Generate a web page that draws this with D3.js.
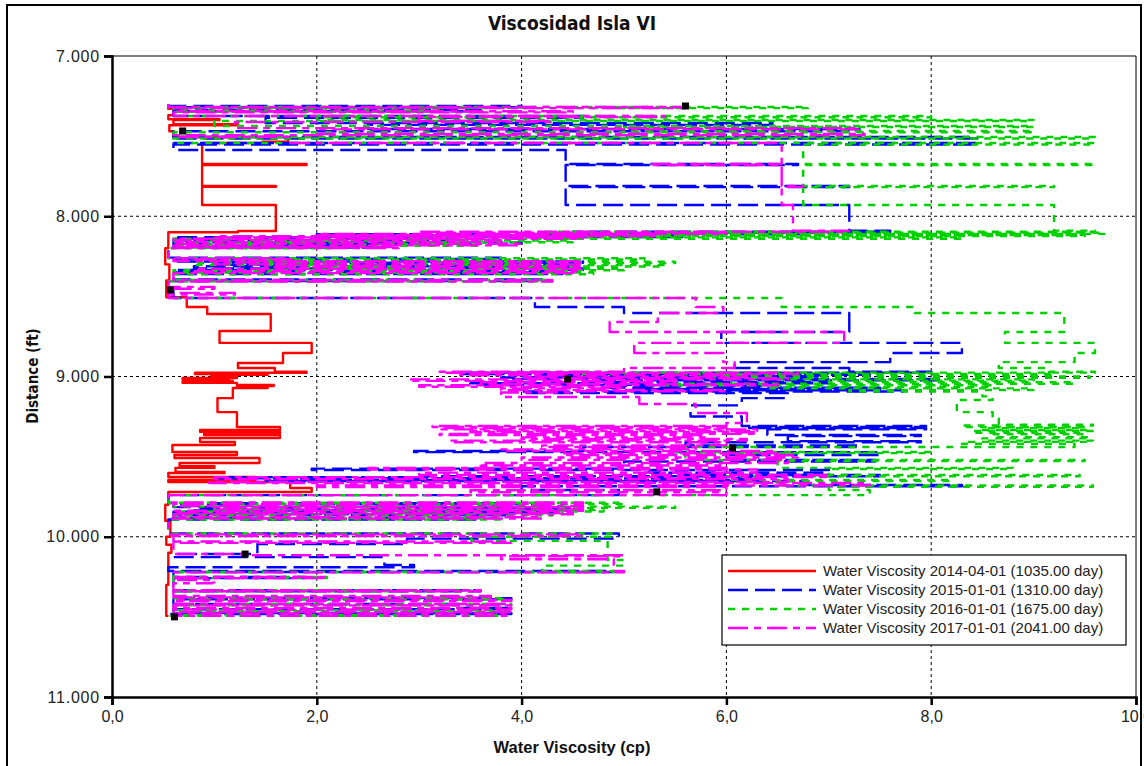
<!DOCTYPE html>
<html>
<head>
<meta charset="utf-8">
<script src="https://cdn.jsdelivr.net/npm/d3@7"></script>
<style>
  body { margin: 0; background: #fff; }
  svg { display: block; }
</style>
</head>
<body>
<svg id="chart" width="1144" height="766"></svg>
<script>
// Layered water-viscosity profiles: each entry is [depth top (ft), viscosity (cp)]
const visc2014 = [
  [7.300,0.55],[7.330,0.60],[7.370,0.55],[7.395,1.05],[7.400,0.60],[7.425,1.23],[7.432,0.56],[7.470,0.60],
  [7.505,1.72],[7.535,1.47],[7.543,0.88],[7.674,1.90],[7.680,0.88],[7.811,1.60],[7.817,0.88],[7.930,1.60],
  [8.092,1.23],[8.100,0.55],[8.200,0.52],[8.300,0.56],[8.400,0.53],[8.505,0.73],[8.566,0.93],[8.610,1.55],
  [8.716,1.05],[8.790,1.95],[8.853,1.67],[8.916,1.23],[8.947,1.59],[8.970,1.90],[8.977,0.81],[8.984,1.52],
  [8.990,0.97],[9.003,1.22],[9.009,0.69],[9.016,1.14],[9.022,0.69],[9.028,1.18],[9.034,0.69],[9.040,1.22],
  [9.053,1.58],[9.059,1.22],[9.066,1.52],[9.072,1.18],[9.090,1.18],[9.135,1.03],[9.222,1.22],[9.315,1.64],
  [9.334,0.86],[9.345,1.64],[9.355,0.90],[9.365,1.64],[9.384,0.86],[9.409,1.20],[9.427,0.59],[9.471,1.22],
  [9.490,0.61],[9.509,1.44],[9.540,0.66],[9.560,1.00],[9.570,0.62],[9.596,1.10],[9.602,0.55],[9.627,1.40],
  [9.646,0.55],[9.658,1.74],[9.696,1.95],[9.721,0.55],[9.800,0.52],[9.900,0.57],[10.000,0.53],[10.050,0.58],
  [10.100,0.55],[10.300,0.53],[10.494,0.55]
];

const visc2015 = [
  [7.300,0.55],[7.312,4.00],[7.320,0.60],[7.337,3.60],[7.345,0.60],[7.374,4.60],[7.385,1.50],[7.418,6.45],
  [7.430,2.50],[7.456,7.30],[7.470,0.60],[7.505,8.45],[7.515,0.60],[7.543,8.45],[7.552,0.60],[7.587,4.43],
  [7.674,6.70],[7.680,4.43],[7.811,7.20],[7.818,4.43],[7.930,7.20],
  [8.090,7.60],[8.097,4.50],[8.104,6.90],[8.112,2.00],[8.120,5.60],[8.130,0.60],[8.140,3.30],[8.150,0.60],
  [8.163,4.00],[8.172,0.60],[8.185,2.60],[8.195,0.55],
  [8.258,3.80],[8.266,0.60],[8.282,4.60],[8.290,1.00],[8.303,4.50],[8.312,0.80],[8.325,4.60],[8.335,0.60],
  [8.350,4.40],[8.360,0.60],[8.395,4.20],[8.405,0.55],[8.460,0.60],
  [8.510,4.13],[8.566,5.00],[8.604,7.20],[8.722,5.95],[8.790,8.30],[8.853,7.60],[8.910,6.08],[8.947,7.20],
  [8.970,8.00],[8.976,3.40],[8.984,7.40],[8.990,4.20],[8.998,6.90],[9.006,3.80],[9.016,8.10],[9.024,4.60],
  [9.034,7.00],[9.042,3.50],[9.052,6.40],[9.060,4.80],[9.070,7.50],[9.078,5.20],[9.086,7.73],[9.094,4.00],
  [9.104,6.60],[9.135,6.15],[9.180,5.65],[9.250,6.15],
  [9.309,7.95],[9.315,6.20],[9.322,7.95],[9.330,6.40],[9.365,7.90],[9.372,6.60],[9.403,7.90],[9.410,5.60],
  [9.430,7.30],[9.440,4.60],[9.465,2.95],[9.472,7.50],[9.490,6.00],[9.521,7.45],[9.530,5.00],[9.575,1.95],
  [9.583,7.00],[9.600,5.20],[9.615,7.50],[9.622,3.00],[9.628,1.05],[9.635,6.30],[9.646,1.50],[9.652,6.80],
  [9.677,8.30],[9.685,4.00],[9.708,4.95],[9.740,0.55],
  [9.790,4.20],[9.798,0.60],[9.815,4.50],[9.822,0.80],[9.836,4.40],[9.844,0.60],[9.858,3.90],[9.866,0.60],
  [9.884,3.60],[9.892,0.55],
  [9.980,4.95],[10.012,2.88],[10.045,1.42],[10.108,0.60],[10.127,2.66],[10.176,2.95],[10.190,0.55],
  [10.214,4.90],[10.220,0.60],[10.251,1.90],[10.258,0.60],[10.334,3.60],[10.340,0.60],[10.383,3.90],
  [10.390,0.60],[10.420,3.40],[10.445,3.90],[10.452,0.60],[10.476,3.90],[10.482,0.55],[10.494,0.55]
];

const visc2016 = [
  [7.300,0.55],[7.318,6.80],[7.325,0.60],[7.340,3.20],[7.348,0.60],[7.374,8.00],[7.382,2.00],[7.399,9.00],
  [7.406,1.00],[7.437,9.00],[7.443,5.00],[7.468,9.00],[7.476,0.60],[7.505,9.60],[7.515,0.60],[7.543,9.60],
  [7.552,6.75],[7.674,9.60],[7.680,6.75],[7.811,9.20],[7.818,6.75],[7.930,9.20],
  [8.090,9.60],[8.097,4.20],[8.103,9.70],[8.110,5.00],[8.117,9.50],[8.124,3.00],[8.132,8.30],[8.140,0.60],
  [8.152,4.50],[8.162,0.60],[8.175,3.60],[8.185,0.60],[8.195,2.20],[8.200,0.55],
  [8.262,5.20],[8.270,1.00],[8.283,5.50],[8.292,0.80],[8.305,5.40],[8.314,1.50],[8.328,5.00],[8.337,0.60],
  [8.352,4.70],[8.362,0.60],[8.398,4.30],[8.406,0.55],[8.445,0.60],
  [8.510,6.54],[8.566,7.84],[8.604,9.30],[8.722,8.72],[8.790,9.60],[8.853,9.40],[8.910,8.66],[8.947,9.15],
  [8.970,9.60],[8.976,4.60],[8.984,9.20],[8.992,5.80],[9.000,9.55],[9.008,6.20],[9.018,9.00],[9.026,7.00],
  [9.036,9.40],[9.045,5.20],[9.055,8.60],[9.064,6.40],[9.074,9.00],[9.084,7.20],[9.094,8.50],
  [9.124,8.60],[9.147,8.25],[9.222,8.60],[9.262,8.66],
  [9.300,9.58],[9.306,8.30],[9.315,9.50],[9.322,8.50],[9.334,9.58],[9.340,8.40],[9.352,9.50],[9.360,8.60],
  [9.378,9.55],[9.386,8.50],[9.400,9.58],[9.408,8.30],[9.420,9.40],[9.440,5.50],[9.471,8.00],[9.478,5.60],
  [9.521,9.50],[9.528,6.50],[9.570,8.80],[9.577,7.00],[9.615,9.45],[9.622,6.00],[9.645,8.20],[9.652,6.50],
  [9.680,9.58],[9.688,7.00],[9.708,7.40],[9.740,0.55],
  [9.788,5.00],[9.796,0.60],[9.812,5.50],[9.820,1.00],[9.834,4.80],[9.842,0.60],[9.860,4.30],[9.868,0.60],
  [9.885,3.80],[9.893,0.55],
  [9.980,4.90],[10.000,3.51],[10.026,4.84],[10.145,5.00],[10.180,4.20],[10.214,4.90],[10.220,0.60],
  [10.251,2.10],[10.258,0.60],[10.334,3.50],[10.340,0.60],[10.383,3.85],[10.390,0.60],[10.420,3.90],
  [10.428,0.60],[10.458,3.90],[10.465,0.60],[10.488,3.80],[10.494,0.55]
];

const visc2017 = [
  [7.300,0.55],[7.318,5.60],[7.325,0.60],[7.345,4.50],[7.352,0.60],[7.374,5.40],[7.381,3.00],[7.405,4.30],
  [7.412,1.20],[7.450,7.30],[7.458,2.00],[7.487,7.35],[7.495,0.60],[7.505,1.72],[7.543,6.54],
  [7.674,5.25],[7.680,6.54],[7.811,6.75],[7.817,6.54],[7.930,6.65],
  [8.090,7.20],[8.097,3.00],[8.103,6.00],[8.110,2.00],[8.117,5.30],[8.124,1.00],[8.132,4.60],[8.140,0.60],
  [8.150,3.80],[8.160,0.60],[8.172,4.00],[8.182,0.60],[8.192,2.80],[8.198,0.55],
  [8.261,1.75],[8.268,0.60],[8.280,4.60],[8.288,1.00],[8.300,4.60],[8.308,1.50],[8.320,4.60],[8.328,0.80],
  [8.343,4.55],[8.355,0.60],[8.398,4.30],[8.408,0.55],[8.441,1.00],[8.452,0.55],[8.478,1.20],[8.488,0.55],
  [8.510,5.70],[8.566,5.97],[8.604,5.33],[8.660,4.86],[8.722,7.15],[8.790,5.10],[8.853,5.97],[8.910,6.08],
  [8.947,5.00],
  [8.970,3.20],[8.977,6.70],[8.985,3.40],[8.993,6.20],[9.001,4.00],[9.010,6.60],[9.018,2.90],[9.027,5.50],
  [9.036,3.60],[9.046,6.50],[9.055,3.00],[9.064,5.00],[9.074,3.80],[9.084,6.00],[9.092,4.50],
  [9.100,3.80],[9.128,5.15],[9.172,5.70],[9.228,6.20],[9.290,6.00],
  [9.309,3.13],[9.315,6.00],[9.322,3.20],[9.330,6.30],[9.340,3.50],[9.348,6.30],[9.358,3.20],[9.366,5.80],
  [9.380,4.00],[9.390,6.20],[9.400,3.30],[9.410,6.00],[9.430,4.20],[9.440,5.70],[9.455,3.80],[9.465,6.50],
  [9.480,4.40],[9.490,6.70],[9.505,4.00],[9.520,6.60],[9.540,3.60],[9.555,6.00],[9.570,2.50],[9.580,6.30],
  [9.600,3.00],[9.615,7.00],[9.628,1.00],[9.640,6.60],[9.658,0.95],[9.665,7.40],[9.680,2.00],[9.690,6.00],
  [9.710,3.50],[9.722,6.00],[9.740,0.55],
  [9.786,4.60],[9.794,0.60],[9.808,4.60],[9.816,1.00],[9.830,4.60],[9.838,0.60],[9.852,4.50],[9.860,0.60],
  [9.878,4.20],[9.886,0.55],
  [9.985,4.60],[9.995,0.60],[10.030,3.90],[10.038,0.60],[10.108,1.33],[10.115,5.00],[10.122,3.80],
  [10.140,4.90],[10.214,5.00],[10.222,0.60],
  [10.251,2.10],[10.258,0.60],[10.270,1.00],[10.285,0.98],[10.290,0.60],[10.334,3.60],[10.340,0.60],
  [10.370,3.70],[10.378,0.60],[10.395,3.90],[10.402,0.60],[10.420,3.90],[10.428,0.60],[10.445,3.90],
  [10.453,0.60],[10.470,3.90],[10.478,0.60],[10.494,3.90]
];

// Well-location markers [viscosity, depth]
const markers = [[5.60,7.312],[0.69,7.468],[0.57,8.460],[4.45,9.016],[6.06,9.446],[5.32,9.720],[1.30,10.108],[0.61,10.500]];

const seriesNames = [
  "Water Viscosity 2014-04-01 (1035.00 day)",
  "Water Viscosity 2015-01-01 (1310.00 day)",
  "Water Viscosity 2016-01-01 (1675.00 day)",
  "Water Viscosity 2017-01-01 (2041.00 day)"
];
const xTicks = [0, 2, 4, 6, 8, 10];
const yTicks = [7, 8, 9, 10, 11];

const series = [
  { name: seriesNames[0], data: visc2014, color: "#ff0000", dash: null },
  { name: seriesNames[1], data: visc2015, color: "#0000ff", dash: "20,7" },
  { name: seriesNames[2], data: visc2016, color: "#00d000", dash: "7,7" },
  { name: seriesNames[3], data: visc2017, color: "#ff00ff", dash: "20,6,7,6" }
];

const svg = d3.select("#chart");
const L = 112, R = 1136, T = 56, B = 697;
const x = d3.scaleLinear().domain([0, 10]).range([L, R]);
const y = d3.scaleLinear().domain([7, 11]).range([T, B]);

const fontTick = "'Liberation Sans',Arial,sans-serif";
const fontNarrow = "'Liberation Sans Narrow','DejaVu Sans Condensed','Arial Narrow',sans-serif";

// outer frame
svg.append("rect").attr("x", 7).attr("y", 5).attr("width", 1134).attr("height", 790)
  .attr("fill", "#fff").attr("stroke", "#000").attr("stroke-width", 2);

// title
svg.append("text").attr("x", 572).attr("y", 30).attr("text-anchor", "middle")
  .attr("font-family", fontNarrow).attr("font-stretch", "condensed")
  .attr("font-weight", "bold").attr("font-size", 19).attr("fill", "#111")
  .text("Viscosidad Isla VI");

// grid
const grid = svg.append("g").attr("stroke", "#000").attr("stroke-width", 1).attr("stroke-dasharray", "3,3");
grid.selectAll("line.gx").data(xTicks.filter(d => d > 0 && d < 10)).join("line")
  .attr("x1", d => x(d)).attr("x2", d => x(d)).attr("y1", T).attr("y2", B);
grid.selectAll("line.gy").data(yTicks.filter(d => d > 7 && d < 11)).join("line")
  .attr("x1", L).attr("x2", R).attr("y1", d => y(d)).attr("y2", d => y(d));

// plot border (thin top/right)
svg.append("path").attr("d", `M${L},${T}H${R}V${B}`).attr("fill", "none").attr("stroke", "#000").attr("stroke-width", 1);

// clip
svg.append("clipPath").attr("id", "plotClip").append("rect")
  .attr("x", L).attr("y", T).attr("width", R - L).attr("height", B - T);

const line = d3.line().x(d => x(d[1])).y(d => y(d[0])).curve(d3.curveStepBefore);

const plot = svg.append("g").attr("clip-path", "url(#plotClip)");
series.forEach(s => {
  plot.append("path").datum(s.data)
    .attr("d", line)
    .attr("fill", "none")
    .attr("stroke", s.color)
    .attr("stroke-width", 2.4)
    .attr("stroke-dasharray", s.dash)
    .attr("stroke-linejoin", "round");
});

plot.selectAll("rect.marker").data(markers).join("rect")
  .attr("x", d => x(d[0]) - 3.5).attr("y", d => y(d[1]) - 3.5)
  .attr("width", 7).attr("height", 7)
  .attr("fill", "#000");

// axes
const yAxis = d3.axisLeft(y).tickValues(yTicks).tickSize(8).tickPadding(4)
  .tickFormat(d => d3.format(",")(d * 1000).replace(/,/g, "."));
const gy = svg.append("g").attr("transform", `translate(${L},0)`).call(yAxis);
const xAxis = d3.axisBottom(x).tickValues(xTicks).tickSize(8).tickPadding(6)
  .tickFormat(d => d3.format(".1f")(d).replace(".", ","));
const gx = svg.append("g").attr("transform", `translate(0,${B})`).call(xAxis);

[gx, gy].forEach(g => {
  g.select(".domain").attr("stroke", "#000").attr("stroke-width", 2.5);
  g.selectAll(".tick line").attr("stroke", "#000").attr("stroke-width", 2.5);
  g.selectAll(".tick text").attr("font-family", fontTick).attr("font-size", 16).attr("fill", "#222");
});
gy.selectAll(".tick text").attr("letter-spacing", 0.8);

// axis titles
svg.append("text").attr("x", 572).attr("y", 753).attr("text-anchor", "middle")
  .attr("font-family", fontTick).attr("font-weight", "bold").attr("font-size", 16.5).attr("fill", "#111")
  .text("Water Viscosity (cp)");
svg.append("text").attr("transform", "translate(38,376) rotate(-90)").attr("text-anchor", "middle")
  .attr("font-family", fontNarrow).attr("font-stretch", "condensed")
  .attr("font-weight", "bold").attr("font-size", 15).attr("fill", "#111")
  .text("Distance (ft)");

// legend
const lg = svg.append("g");
lg.append("rect").attr("x", 722).attr("y", 555).attr("width", 404).attr("height", 90)
  .attr("fill", "#fff").attr("stroke", "#000").attr("stroke-width", 1.2);
series.forEach((s, i) => {
  const yy = 571 + i * 19;
  lg.append("line").attr("x1", 728).attr("x2", 816).attr("y1", yy).attr("y2", yy)
    .attr("stroke", s.color).attr("stroke-width", 2.4).attr("stroke-dasharray", s.dash);
  lg.append("text").attr("x", 823).attr("y", yy + 5)
    .attr("font-family", fontTick).attr("font-size", 15).attr("fill", "#222")
    .text(s.name);
});
</script>
</body>
</html>
